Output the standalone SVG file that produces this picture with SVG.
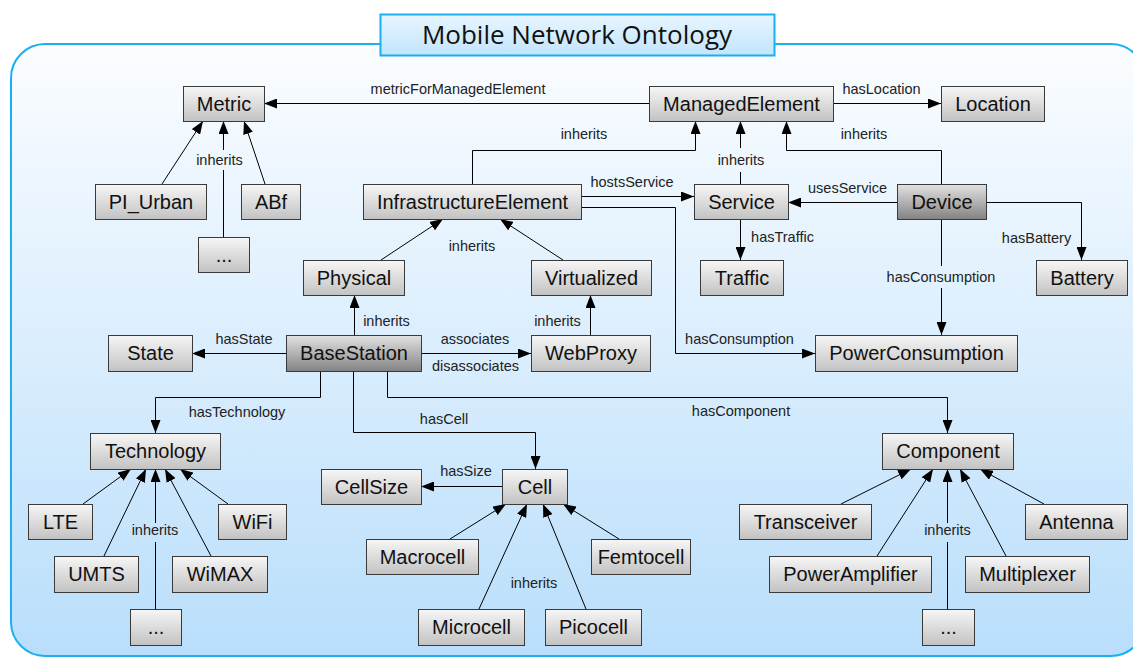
<svg xmlns="http://www.w3.org/2000/svg" width="1133" height="657" viewBox="0 0 1133 657">
<defs>
<linearGradient id="bg" x1="0" y1="0" x2="0" y2="1">
<stop offset="0" stop-color="#fbfdff"/>
<stop offset="1" stop-color="#b9defb"/>
</linearGradient>
<linearGradient id="tg" x1="0" y1="0" x2="0" y2="1">
<stop offset="0" stop-color="#e8f5ff"/>
<stop offset="1" stop-color="#c2e5fb"/>
</linearGradient>
<linearGradient id="ng" x1="0" y1="0" x2="0" y2="1">
<stop offset="0" stop-color="#f6f6f6"/>
<stop offset="1" stop-color="#c2c2c2"/>
</linearGradient>
<linearGradient id="dg" x1="0" y1="0" x2="0" y2="1">
<stop offset="0" stop-color="#e2e2e2"/>
<stop offset="1" stop-color="#828282"/>
</linearGradient>
<marker id="ah" markerWidth="13" markerHeight="10" refX="13" refY="5" orient="auto" markerUnits="userSpaceOnUse">
<path d="M0,0 L13,5 L0,10 z" fill="#000"/>
</marker>
</defs>
<style>
.n rect{fill:url(#ng);stroke:#3a3a3a;stroke-width:1}
.n.d rect{fill:url(#dg)}
.n text{font-family:"Liberation Sans",Arial,sans-serif;font-size:20px;fill:#111;text-anchor:middle}
.c path{fill:none;stroke:#000;stroke-width:1}
.c path.a{marker-end:url(#ah)}
.l text{font-family:"Liberation Sans",Arial,sans-serif;font-size:14.5px;fill:#222;text-anchor:middle}
</style>
<rect x="11" y="44" width="1134" height="612" rx="34" ry="34" fill="url(#bg)" stroke="#1ab0f0" stroke-width="2"/>
<g id="title">
<rect x="380.5" y="14.5" width="394" height="41" fill="url(#tg)" stroke="#1ab0f0" stroke-width="2"/>
<text x="577" y="43.5" font-family="'Open Sans','Noto Sans',sans-serif" font-size="26" fill="#111" text-anchor="middle">Mobile Network Ontology</text>
</g>
<g id="connectors" class="c">
<path class="a" d="M649,103.5 H264"/>
<path class="a" d="M833,103.5 H941"/>
<path class="a" d="M162,184 L203,121"/>
<path d="M223.5,237 V170 M223.5,150 V133"/>
<path class="a" d="M223.5,134 V121"/>
<path class="a" d="M265,184 L244,121"/>
<path class="a" d="M472.5,184 V150.5 H695.5 V121"/>
<path d="M740.5,184 V172 M740.5,148 V134"/>
<path class="a" d="M740.5,135 V121"/>
<path class="a" d="M941.5,184 V150.5 H786.5 V121"/>
<path class="a" d="M581,196.5 H694"/>
<path class="a" d="M581,207.5 H675.5 V353.5 H815"/>
<path class="a" d="M740.5,219 V260"/>
<path class="a" d="M897,202.5 H788"/>
<path class="a" d="M986,202.5 H1081.5 V260"/>
<path d="M941.5,219 V266 M941.5,288 V300"/>
<path class="a" d="M941.5,299 V335"/>
<path class="a" d="M381,260 L443,219"/>
<path class="a" d="M563,260 L500,219"/>
<path class="a" d="M354.5,335 V295"/>
<path class="a" d="M590.5,335 V295"/>
<path class="a" d="M286,353.5 H192"/>
<path class="a" d="M421,353.5 H531"/>
<path class="a" d="M320.5,371 V397.5 H155.5 V433"/>
<path class="a" d="M353.5,371 V432.5 H535.5 V469"/>
<path class="a" d="M387.5,371 V397.5 H947.5 V433"/>
<path class="a" d="M502,486.5 H421"/>
<path class="a" d="M83,504 L131,469"/>
<path class="a" d="M104,556 L146,469"/>
<path d="M155.5,609 V542 M155.5,523 V485"/>
<path class="a" d="M155.5,486 V469"/>
<path class="a" d="M211,556 L165,469"/>
<path class="a" d="M228,504 L180,469"/>
<path class="a" d="M450,539 L506,504"/>
<path class="a" d="M479,609 L527,504"/>
<path class="a" d="M586,609 L543,504"/>
<path class="a" d="M619,539 L563,504"/>
<path class="a" d="M841,504 L911,469"/>
<path class="a" d="M877,556 L933,469"/>
<path d="M947.5,609 V542 M947.5,523 V485"/>
<path class="a" d="M947.5,486 V469"/>
<path class="a" d="M1006,556 L960,469"/>
<path class="a" d="M1044,504 L980,469"/>
</g>
<g id="labels" class="l">
<text x="458" y="93.5">metricForManagedElement</text>
<text x="881.5" y="93.5">hasLocation</text>
<text x="219.5" y="165">inherits</text>
<text x="584" y="139">inherits</text>
<text x="741" y="165">inherits</text>
<text x="864" y="139">inherits</text>
<text x="632" y="187">hostsService</text>
<text x="847.5" y="192.5">usesService</text>
<text x="782.5" y="242">hasTraffic</text>
<text x="1036.5" y="242.5">hasBattery</text>
<text x="941" y="282">hasConsumption</text>
<text x="739.5" y="343.5">hasConsumption</text>
<text x="472" y="251">inherits</text>
<text x="386.5" y="326">inherits</text>
<text x="557.5" y="326">inherits</text>
<text x="244" y="344">hasState</text>
<text x="475" y="343.5">associates</text>
<text x="475.5" y="371">disassociates</text>
<text x="237" y="417">hasTechnology</text>
<text x="444" y="423.5">hasCell</text>
<text x="741" y="416">hasComponent</text>
<text x="466" y="476">hasSize</text>
<text x="155" y="534.5">inherits</text>
<text x="534" y="587.5">inherits</text>
<text x="947.5" y="534.5">inherits</text>
</g>
<g id="Metric" class="n"><rect x="183.5" y="86.5" width="81" height="35"/><text x="224" y="110.5">Metric</text></g>
<g id="ManagedElement" class="n"><rect x="649.5" y="86.5" width="184" height="35"/><text x="741.5" y="110.5">ManagedElement</text></g>
<g id="Location" class="n"><rect x="941.5" y="86.5" width="103" height="35"/><text x="993" y="110.5">Location</text></g>
<g id="PI_Urban" class="n"><rect x="95.5" y="184.5" width="111" height="35"/><text x="151" y="208.5">PI_Urban</text></g>
<g id="ABf" class="n"><rect x="241.5" y="184.5" width="59" height="35"/><text x="271" y="208.5">ABf</text></g>
<g id="MetricMore" class="n"><rect x="198.5" y="237.5" width="51" height="35"/><text x="224" y="261.5">...</text></g>
<g id="InfrastructureElement" class="n"><rect x="363.5" y="184.5" width="218" height="35"/><text x="472.5" y="208.5">InfrastructureElement</text></g>
<g id="Service" class="n"><rect x="694.5" y="184.5" width="94" height="35"/><text x="741.5" y="208.5">Service</text></g>
<g id="Device" class="n d"><rect x="897.5" y="184.5" width="89" height="35"/><text x="942" y="208.5">Device</text></g>
<g id="Physical" class="n"><rect x="303.5" y="260.5" width="101" height="35"/><text x="354" y="284.5">Physical</text></g>
<g id="Virtualized" class="n"><rect x="531.5" y="260.5" width="120" height="35"/><text x="591.5" y="284.5">Virtualized</text></g>
<g id="Traffic" class="n"><rect x="700.5" y="260.5" width="83" height="35"/><text x="742" y="284.5">Traffic</text></g>
<g id="Battery" class="n"><rect x="1036.5" y="260.5" width="91" height="35"/><text x="1082" y="284.5">Battery</text></g>
<g id="State" class="n"><rect x="108.5" y="335.5" width="84" height="36"/><text x="150.5" y="360">State</text></g>
<g id="BaseStation" class="n d"><rect x="286.5" y="335.5" width="135" height="36"/><text x="354" y="360">BaseStation</text></g>
<g id="WebProxy" class="n"><rect x="531.5" y="335.5" width="119" height="36"/><text x="591" y="360">WebProxy</text></g>
<g id="PowerConsumption" class="n"><rect x="815.5" y="335.5" width="202" height="36"/><text x="916.5" y="360">PowerConsumption</text></g>
<g id="Technology" class="n"><rect x="90.5" y="433.5" width="130" height="36"/><text x="155.5" y="458">Technology</text></g>
<g id="Component" class="n"><rect x="882.5" y="433.5" width="131" height="36"/><text x="948" y="458">Component</text></g>
<g id="CellSize" class="n"><rect x="321.5" y="469.5" width="100" height="35"/><text x="371.5" y="493.5">CellSize</text></g>
<g id="Cell" class="n"><rect x="502.5" y="469.5" width="65" height="35"/><text x="535" y="493.5">Cell</text></g>
<g id="LTE" class="n"><rect x="28.5" y="504.5" width="64" height="35"/><text x="60.5" y="528.5">LTE</text></g>
<g id="WiFi" class="n"><rect x="218.5" y="504.5" width="68" height="35"/><text x="252.5" y="528.5">WiFi</text></g>
<g id="Transceiver" class="n"><rect x="739.5" y="504.5" width="132" height="35"/><text x="805.5" y="528.5">Transceiver</text></g>
<g id="Antenna" class="n"><rect x="1025.5" y="504.5" width="102" height="35"/><text x="1076.5" y="528.5">Antenna</text></g>
<g id="Macrocell" class="n"><rect x="366.5" y="539.5" width="112" height="35"/><text x="422.5" y="563.5">Macrocell</text></g>
<g id="Femtocell" class="n"><rect x="591.5" y="539.5" width="99" height="35"/><text x="641" y="563.5">Femtocell</text></g>
<g id="UMTS" class="n"><rect x="54.5" y="556.5" width="84" height="36"/><text x="96.5" y="581">UMTS</text></g>
<g id="WiMAX" class="n"><rect x="172.5" y="556.5" width="95" height="36"/><text x="220" y="581">WiMAX</text></g>
<g id="PowerAmplifier" class="n"><rect x="769.5" y="556.5" width="162" height="36"/><text x="850.5" y="581">PowerAmplifier</text></g>
<g id="Multiplexer" class="n"><rect x="965.5" y="556.5" width="124" height="36"/><text x="1027.5" y="581">Multiplexer</text></g>
<g id="TechMore" class="n"><rect x="130.5" y="609.5" width="51" height="36"/><text x="156" y="634">...</text></g>
<g id="Microcell" class="n"><rect x="418.5" y="609.5" width="106" height="36"/><text x="471.5" y="634">Microcell</text></g>
<g id="Picocell" class="n"><rect x="545.5" y="609.5" width="96" height="36"/><text x="593.5" y="634">Picocell</text></g>
<g id="CompMore" class="n"><rect x="922.5" y="609.5" width="52" height="36"/><text x="948.5" y="634">...</text></g>
</svg>
